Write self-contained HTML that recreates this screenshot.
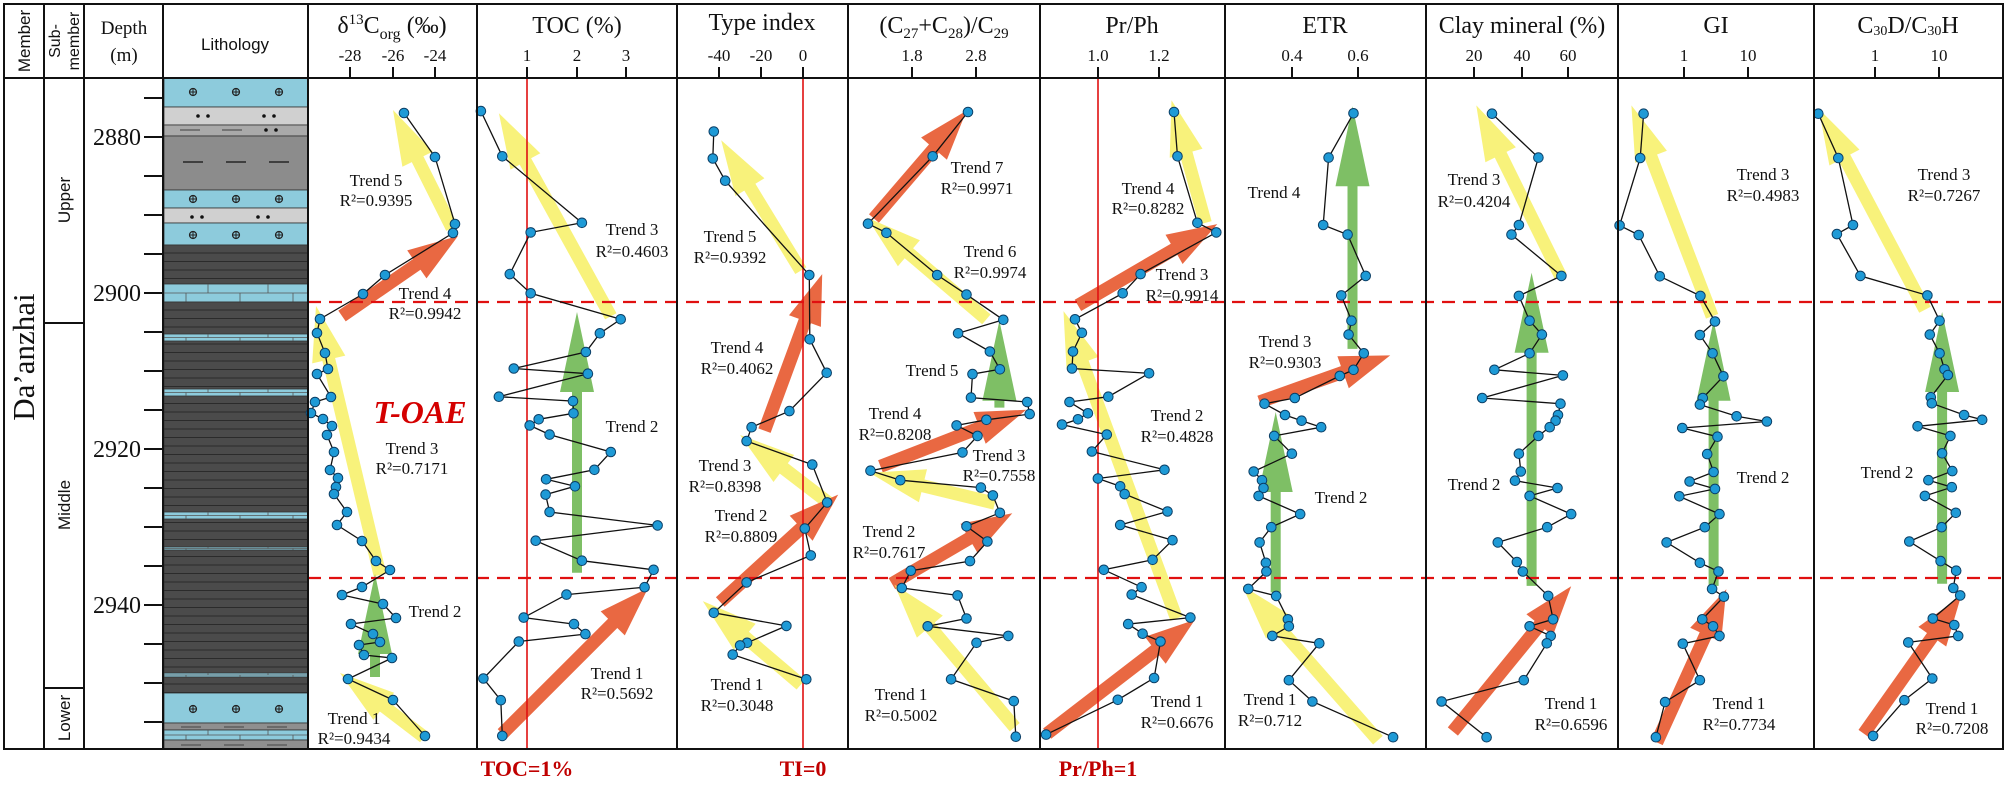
<!DOCTYPE html>
<html><head><meta charset="utf-8"><style>
html,body{margin:0;padding:0;background:#fff}
svg{display:block}
text{font-family:"Liberation Serif",serif;fill:#111}
.s{font-family:"Liberation Sans",sans-serif}
.tr{font-size:17px;text-anchor:middle}
.ti{font-size:24px;text-anchor:middle}
.tk{font-size:17px;text-anchor:middle}
.dp{font-size:24px;text-anchor:end}
.bt{font-size:22px;font-weight:bold;fill:#c00000;text-anchor:middle}
</style></head><body>
<svg id="S" width="2007" height="787" viewBox="0 0 2007 787" xmlns="http://www.w3.org/2000/svg">
<rect width="2007" height="787" fill="#fff"/>
<g id="litho"></g>
<g id="arrows"></g>
<g id="lines"></g>
<g id="frame" stroke="#111" stroke-width="2" fill="none">
<rect x="4" y="4" width="1999" height="745"/>
<line x1="4" y1="78" x2="2003" y2="78"/>
<line x1="44" y1="4" x2="44" y2="749"/>
<line x1="84" y1="4" x2="84" y2="749"/>
<line x1="163" y1="4" x2="163" y2="749"/>
<line x1="308" y1="4" x2="308" y2="749"/>
<line x1="477" y1="4" x2="477" y2="749"/>
<line x1="677" y1="4" x2="677" y2="749"/>
<line x1="848" y1="4" x2="848" y2="749"/>
<line x1="1040" y1="4" x2="1040" y2="749"/>
<line x1="1225" y1="4" x2="1225" y2="749"/>
<line x1="1426" y1="4" x2="1426" y2="749"/>
<line x1="1618" y1="4" x2="1618" y2="749"/>
<line x1="1814" y1="4" x2="1814" y2="749"/>
<line x1="44" y1="323" x2="84" y2="323"/>
<line x1="44" y1="688" x2="84" y2="688"/>
</g>
<g id="ticks" stroke="#111" stroke-width="2"></g>
<!-- header text -->
<text class="s" font-size="17" transform="translate(30,41) rotate(-90)" text-anchor="middle">Member</text>
<text class="s" font-size="16" transform="translate(60,41) rotate(-90)" text-anchor="middle">Sub-</text>
<text class="s" font-size="16" transform="translate(79,41) rotate(-90)" text-anchor="middle">member</text>
<text font-size="19" x="124" y="34" text-anchor="middle">Depth</text>
<text font-size="19" x="124" y="61" text-anchor="middle">(m)</text>
<text class="s" font-size="17" x="235" y="50" text-anchor="middle">Lithology</text>
<text class="ti" x="392" y="33">δ<tspan font-size="15" dy="-9">13</tspan><tspan dy="9">C</tspan><tspan font-size="16" dy="6">org</tspan><tspan dy="-6"> (‰)</tspan></text>
<text class="ti" x="577" y="33">TOC (%)</text>
<text class="ti" x="762" y="30">Type index</text>
<text class="ti" x="944" y="33">(C<tspan font-size="15" dy="5">27</tspan><tspan dy="-5">+C</tspan><tspan font-size="15" dy="5">28</tspan><tspan dy="-5">)/C</tspan><tspan font-size="15" dy="5">29</tspan></text>
<text class="ti" x="1132" y="33">Pr/Ph</text>
<text class="ti" x="1325" y="33">ETR</text>
<text class="ti" x="1522" y="33">Clay mineral (%)</text>
<text class="ti" x="1716" y="33">GI</text>
<text class="ti" x="1908" y="33">C<tspan font-size="14" dy="2">30</tspan><tspan dy="-2">D/C</tspan><tspan font-size="14" dy="2">30</tspan><tspan dy="-2">H</tspan></text>
<g class="tk">
<text x="350" y="61" class="tk">-28</text><text x="393" y="61" class="tk">-26</text><text x="435" y="61" class="tk">-24</text>
<text x="527" y="61" class="tk">1</text><text x="577" y="61" class="tk">2</text><text x="626" y="61" class="tk">3</text>
<text x="719" y="61" class="tk">-40</text><text x="761" y="61" class="tk">-20</text><text x="803" y="61" class="tk">0</text>
<text x="912" y="61" class="tk">1.8</text><text x="976" y="61" class="tk">2.8</text>
<text x="1098" y="61" class="tk">1.0</text><text x="1159" y="61" class="tk">1.2</text>
<text x="1292" y="61" class="tk">0.4</text><text x="1358" y="61" class="tk">0.6</text>
<text x="1474" y="61" class="tk">20</text><text x="1522" y="61" class="tk">40</text><text x="1568" y="61" class="tk">60</text>
<text x="1684" y="61" class="tk">1</text><text x="1748" y="61" class="tk">10</text>
<text x="1875" y="61" class="tk">1</text><text x="1939" y="61" class="tk">10</text>
</g>
<text class="dp" x="141" y="145">2880</text>
<text class="dp" x="141" y="301">2900</text>
<text class="dp" x="141" y="457">2920</text>
<text class="dp" x="141" y="613">2940</text>
<text font-size="31" transform="translate(34,357) rotate(-90)" text-anchor="middle">Da’anzhai</text>
<text class="s" font-size="17" transform="translate(70,200) rotate(-90)" text-anchor="middle">Upper</text>
<text class="s" font-size="17" transform="translate(70,505) rotate(-90)" text-anchor="middle">Middle</text>
<text class="s" font-size="17" transform="translate(70,718) rotate(-90)" text-anchor="middle">Lower</text>
<!-- trend labels -->
<g class="tr">
<text class="tr" x="376" y="186">Trend 5</text><text class="tr" x="376" y="206">R²=0.9395</text>
<text class="tr" x="425" y="299">Trend 4</text><text class="tr" x="425" y="319">R²=0.9942</text>
<text x="420" y="423" font-size="32" font-weight="bold" font-style="italic" fill="#d40000" style="fill:#d40000" text-anchor="middle">T-OAE</text>
<text class="tr" x="412" y="454">Trend 3</text><text class="tr" x="412" y="474">R²=0.7171</text>
<text class="tr" x="435" y="617">Trend 2</text>
<text class="tr" x="354" y="724">Trend 1</text><text class="tr" x="354" y="744">R²=0.9434</text>
<text class="tr" x="632" y="235">Trend 3</text><text class="tr" x="632" y="257">R²=0.4603</text>
<text class="tr" x="632" y="432">Trend 2</text>
<text class="tr" x="617" y="679">Trend 1</text><text class="tr" x="617" y="699">R²=0.5692</text>
<text class="tr" x="730" y="242">Trend 5</text><text class="tr" x="730" y="263">R²=0.9392</text>
<text class="tr" x="737" y="353">Trend 4</text><text class="tr" x="737" y="374">R²=0.4062</text>
<text class="tr" x="725" y="471">Trend 3</text><text class="tr" x="725" y="492">R²=0.8398</text>
<text class="tr" x="741" y="521">Trend 2</text><text class="tr" x="741" y="542">R²=0.8809</text>
<text class="tr" x="737" y="690">Trend 1</text><text class="tr" x="737" y="711">R²=0.3048</text>
<text class="tr" x="977" y="173">Trend 7</text><text class="tr" x="977" y="194">R²=0.9971</text>
<text class="tr" x="990" y="257">Trend 6</text><text class="tr" x="990" y="278">R²=0.9974</text>
<text class="tr" x="932" y="376">Trend 5</text>
<text class="tr" x="895" y="419">Trend 4</text><text class="tr" x="895" y="440">R²=0.8208</text>
<text class="tr" x="999" y="461">Trend 3</text><text class="tr" x="999" y="481">R²=0.7558</text>
<text class="tr" x="889" y="537">Trend 2</text><text class="tr" x="889" y="558">R²=0.7617</text>
<text class="tr" x="901" y="700">Trend 1</text><text class="tr" x="901" y="721">R²=0.5002</text>
<text class="tr" x="1148" y="194">Trend 4</text><text class="tr" x="1148" y="214">R²=0.8282</text>
<text class="tr" x="1182" y="280">Trend 3</text><text class="tr" x="1182" y="301">R²=0.9914</text>
<text class="tr" x="1177" y="421">Trend 2</text><text class="tr" x="1177" y="442">R²=0.4828</text>
<text class="tr" x="1177" y="707">Trend 1</text><text class="tr" x="1177" y="728">R²=0.6676</text>
<text class="tr" x="1274" y="198">Trend 4</text>
<text class="tr" x="1285" y="347">Trend 3</text><text class="tr" x="1285" y="368">R²=0.9303</text>
<text class="tr" x="1341" y="503">Trend 2</text>
<text class="tr" x="1270" y="705">Trend 1</text><text class="tr" x="1270" y="726">R²=0.712</text>
<text class="tr" x="1474" y="185">Trend 3</text><text class="tr" x="1474" y="207">R²=0.4204</text>
<text class="tr" x="1474" y="490">Trend 2</text>
<text class="tr" x="1571" y="709">Trend 1</text><text class="tr" x="1571" y="730">R²=0.6596</text>
<text class="tr" x="1763" y="180">Trend 3</text><text class="tr" x="1763" y="201">R²=0.4983</text>
<text class="tr" x="1763" y="483">Trend 2</text>
<text class="tr" x="1739" y="709">Trend 1</text><text class="tr" x="1739" y="730">R²=0.7734</text>
<text class="tr" x="1944" y="180">Trend 3</text><text class="tr" x="1944" y="201">R²=0.7267</text>
<text class="tr" x="1887" y="478">Trend 2</text>
<text class="tr" x="1952" y="714">Trend 1</text><text class="tr" x="1952" y="734">R²=0.7208</text>
</g>
<text class="bt" x="527" y="776">TOC=1%</text>
<text class="bt" x="803" y="776">TI=0</text>
<text class="bt" x="1098" y="776">Pr/Ph=1</text>
</svg>
<script>
(function(){
var NS="http://www.w3.org/2000/svg";
function el(p,t,a){var e=document.createElementNS(NS,t);for(var k in a)e.setAttribute(k,a[k]);p.appendChild(e);return e;}
var L=document.getElementById('litho'),A=document.getElementById('arrows'),G=document.getElementById('lines'),T=document.getElementById('ticks');
var X0=164,X1=308,W=X1-X0;
var BL='#8dcbdc';
function rect(y0,y1,c){el(L,'rect',{x:X0,y:y0,width:W,height:y1-y0,fill:c,stroke:'#333','stroke-width':0.8});}
function oplus(y){[193,236,279].forEach(function(x){el(L,'circle',{cx:x,cy:y,r:3.5,fill:'none',stroke:'#222','stroke-width':1.2});el(L,'path',{d:'M'+(x-3.5)+' '+y+'h7M'+x+' '+(y-3.5)+'v7',stroke:'#222','stroke-width':1});});}
function dots(y,xs){xs.forEach(function(x){el(L,'circle',{cx:x,cy:y,r:1.8,fill:'#111'});});}
function dashes(y,xs,c){xs.forEach(function(x){el(L,'line',{x1:x-10,y1:y,x2:x+10,y2:y,stroke:c||'#111','stroke-width':1.3});});}
function shale(y0,y1){rect(y0,y1,'#4b4b4b');for(var y=y0+8;y<y1;y+=8.5)el(L,'line',{x1:X0,y1:y,x2:X1,y2:y,stroke:'#2b2b2b','stroke-width':1});}
function brick(y0,y1){rect(y0,y1,BL);var m=(y0+y1)/2;el(L,'line',{x1:X0,y1:m,x2:X1,y2:m,stroke:'#555','stroke-width':0.8});
[208,268].forEach(function(x){el(L,'line',{x1:x,y1:y0,x2:x,y2:m,stroke:'#555','stroke-width':0.8});});
[186,240,293].forEach(function(x){el(L,'line',{x1:x,y1:m,x2:x,y2:y1,stroke:'#555','stroke-width':0.8});});}
rect(78,107,BL);oplus(92);
rect(107,125,'#d0d0d0');dots(116,[198,208,264,274]);
rect(125,136,'#a9a9a9');dashes(130,[190,232],'#555');dots(130,[266,276]);
rect(136,190,'#8c8c8c');dashes(162,[193,236,279]);
rect(190,208,BL);oplus(199);
rect(208,223,'#d0d0d0');dots(217,[192,202,258,268]);
rect(223,245,BL);oplus(235);
shale(245,284);brick(284,302);shale(302,693);
[[334,341],[389,396],[512,519],[547,550],[673,677]].forEach(function(b){brick(b[0],b[1]);});
rect(693,723,BL);oplus(709);
rect(723,730,'#8f8f8f');dashes(727,[191,234,277],'#555');
brick(730,740);
rect(740,749,'#8f8f8f');dashes(745,[191,234,277],'#555');
// depth ticks
for(var d=2875;d<=2955;d+=5){var y=137+(d-2880)*7.8;el(T,'line',{x1:144,y1:y,x2:163,y2:y});}
// header ticks
[350,393,435,527,577,626,719,761,803,912,976,1098,1159,1292,1358,1474,1522,1568,1684,1748,1875,1939].forEach(function(x){el(T,'line',{x1:x,y1:67,x2:x,y2:78});});
// red vertical lines
[527,803,1098].forEach(function(x){el(G,'line',{x1:x,y1:78,x2:x,y2:749,stroke:'#e01010','stroke-width':1.6});});
// dashed lines
[302,578].forEach(function(y){el(G,'line',{x1:308,y1:y,x2:2003,y2:y,stroke:'#e01010','stroke-width':2.2,'stroke-dasharray':'13 8'});});
var Z7=function(p){return [470+p[0]/2.01,75+p[1]/2.3];};
var Z8=function(p){return [1240+p[0]/2.044,75+p[1]/2.3];};
var ID=function(p){return p;};
var YEL='rgba(247,240,100,0.85)',ORA='rgba(232,96,56,0.95)',GRN='rgba(112,184,84,0.9)';
function arrow(t,h,c,sw,hw,hl){var dx=h[0]-t[0],dy=h[1]-t[1],l=Math.sqrt(dx*dx+dy*dy),ux=dx/l,uy=dy/l,nx=-uy,ny=ux;
var bx=h[0]-ux*hl,by=h[1]-uy*hl;
var P=[[t[0]+nx*sw/2,t[1]+ny*sw/2],[bx+nx*sw/2,by+ny*sw/2],[bx+nx*hw/2,by+ny*hw/2],h,[bx-nx*hw/2,by-ny*hw/2],[bx-nx*sw/2,by-ny*sw/2],[t[0]-nx*sw/2,t[1]-ny*sw/2]];
el(A,'polygon',{points:P.map(function(p){return p[0].toFixed(1)+','+p[1].toFixed(1);}).join(' '),fill:c});}
function Y(f,a,b){arrow(f(a),f(b),YEL,13,34,55);}
function O(f,a,b){arrow(f(a),f(b),ORA,13,34,50);}
function Gr(f,x,ty,hy){arrow(f([x,ty]),f([x,hy]),GRN,10,34,80);}
var pts=[];
function series(f,arr){var P=arr.map(f);el(G,'polyline',{points:P.map(function(p){return p[0].toFixed(1)+','+p[1].toFixed(1);}).join(' '),fill:'none',stroke:'#111','stroke-width':1.3});pts=pts.concat(P);}
// d13C (real coords)
Y(ID,[452,228],[393,110]);O(ID,[342,316],[458,236]);Y(ID,[380,575],[316,306]);Gr(ID,375,677,574);Y(ID,[424,737],[340,673]);
series(ID,[[404,113],[435,157],[455,224],[453,233],[385,275],[363,294],[320,319],[317,333],[325,353],[328,369],[317,374],[331,397],[315,402],[311,413],[323,419],[332,426],[327,435],[334,452],[330,470],[338,478],[336,487],[334,494],[347,512],[337,525],[362,541],[376,561],[390,570],[362,587],[342,595],[383,604],[396,618],[351,624],[373,634],[380,642],[359,645],[364,655],[392,658],[348,679],[393,700],[425,736]]);
// TOC
Y(Z7,[283,555],[58,88]);Gr(Z7,215,1145,545);O(Z7,[65,1515],[358,1180]);
series(Z7,[[22,83],[65,187],[225,340],[122,362],[80,458],[122,502],[303,562],[261,594],[233,637],[88,675],[237,687],[58,740],[207,750],[208,778],[138,792],[120,806],[160,827],[283,867],[250,908],[153,930],[211,946],[152,965],[160,1005],[377,1036],[132,1071],[225,1117],[369,1138],[351,1178],[194,1195],[108,1248],[209,1263],[232,1286],[98,1303],[27,1388],[62,1438],[65,1520]]);
// Type index
Y(Z7,[665,450],[505,150]);O(Z7,[592,818],[708,458]);Y(Z7,[722,985],[543,828]);O(Z7,[503,1212],[740,965]);Y(Z7,[665,1402],[468,1210]);
series(Z7,[[490,130],[488,192],[513,243],[682,460],[683,608],[717,685],[642,773],[566,810],[556,842],[688,896],[718,983],[673,1043],[685,1105],[556,1167],[490,1237],[636,1267],[557,1306],[543,1312],[528,1333],[676,1390]]);
// C27
O(Z7,[812,330],[998,82]);Y(Z7,[1038,562],[798,328]);Gr(Z7,1064,765,565);O(Z7,[825,900],[1118,770]);Y(Z7,[1055,985],[803,915]);O(Z7,[848,1170],[1090,1008]);Y(Z7,[1095,1500],[853,1172]);
series(Z7,[[1001,85],[930,187],[800,342],[837,363],[939,460],[998,505],[1072,563],[981,594],[1045,636],[1065,677],[1010,688],[1007,742],[1120,752],[1125,780],[1038,793],[978,806],[1020,830],[990,868],[805,910],[865,932],[1027,949],[1051,967],[1065,1007],[998,1038],[1040,1073],[1005,1118],[886,1140],[868,1180],[980,1197],[998,1250],[920,1268],[1082,1290],[1018,1306],[967,1390],[1093,1440],[1097,1522]]);
// Pr/Ph
Y(Z7,[1478,340],[1410,58]);O(Z7,[1222,530],[1502,343]);Y(Z7,[1420,1250],[1193,543]);O(Z7,[1160,1515],[1457,1253]);
series(Z7,[[1415,85],[1422,187],[1462,340],[1500,362],[1348,458],[1312,502],[1216,562],[1230,593],[1212,636],[1210,675],[1365,686],[1283,740],[1205,752],[1242,778],[1222,792],[1190,804],[1280,827],[1250,866],[1396,908],[1262,928],[1307,946],[1316,964],[1402,1004],[1307,1035],[1412,1070],[1372,1115],[1274,1138],[1350,1178],[1330,1195],[1448,1248],[1323,1263],[1352,1285],[1388,1303],[1375,1387],[1302,1437],[1158,1517]]);
// ETR
Gr(Z8,230,630,72);O(Z8,[40,752],[307,645]);Gr(Z8,73,1190,775);Y(Z8,[282,1530],[5,1175]);
series(Z8,[[232,88],[181,190],[170,345],[220,367],[257,462],[207,507],[228,565],[222,597],[253,640],[232,678],[204,692],[112,743],[50,756],[92,782],[126,795],[166,810],[70,830],[106,871],[28,912],[45,932],[48,950],[38,968],[123,1010],[64,1040],[40,1075],[53,1122],[54,1142],[17,1182],[74,1198],[98,1252],[100,1268],[66,1290],[162,1307],[100,1392],[148,1441],[313,1523]]);
// Clay
Y(Z8,[655,462],[483,70]);Gr(Z8,596,1175,455);O(Z8,[435,1510],[677,1176]);
series(Z8,[[515,89],[610,190],[570,345],[555,367],[657,462],[570,508],[592,565],[617,597],[592,640],[520,678],[660,691],[495,743],[655,756],[650,782],[645,795],[633,810],[610,830],[570,871],[574,912],[562,933],[649,950],[592,968],[677,1010],[628,1040],[527,1075],[566,1120],[578,1142],[630,1198],[640,1252],[592,1268],[635,1290],[627,1307],[580,1392],[412,1441],[504,1523]]);
// GI
Y(Z8,[965,555],[800,70]);Gr(Z8,968,1175,565);O(Z8,[852,1535],[994,1183]);
series(Z8,[[825,89],[818,191],[776,346],[815,368],[858,463],[941,508],[971,567],[940,598],[966,640],[988,693],[946,743],[940,758],[1015,785],[1077,797],[904,812],[976,832],[955,872],[968,913],[919,935],[971,952],[898,969],[980,1010],[950,1040],[872,1075],[940,1122],[978,1142],[965,1182],[989,1200],[945,1252],[967,1268],[980,1290],[905,1308],[940,1392],[869,1442],[850,1523]]);
// C30
Y(Z8,[1400,540],[1183,78]);Gr(Z8,1435,1170,545);O(Z8,[1275,1515],[1474,1198]);
series(Z8,[[1182,89],[1223,191],[1253,345],[1220,366],[1268,462],[1405,507],[1430,565],[1410,597],[1430,640],[1440,677],[1447,690],[1412,741],[1414,755],[1480,782],[1517,793],[1385,808],[1452,830],[1435,870],[1456,911],[1407,932],[1455,948],[1400,968],[1463,1007],[1434,1040],[1368,1073],[1432,1118],[1464,1140],[1458,1180],[1472,1197],[1416,1250],[1460,1265],[1468,1290],[1366,1305],[1415,1388],[1358,1438],[1294,1520]]);
pts.forEach(function(p){el(G,'circle',{cx:p[0].toFixed(1),cy:p[1].toFixed(1),r:4.8,fill:'#1e9ad6',stroke:'#0c3f66','stroke-width':1});});
})();
</script>
</body></html>
